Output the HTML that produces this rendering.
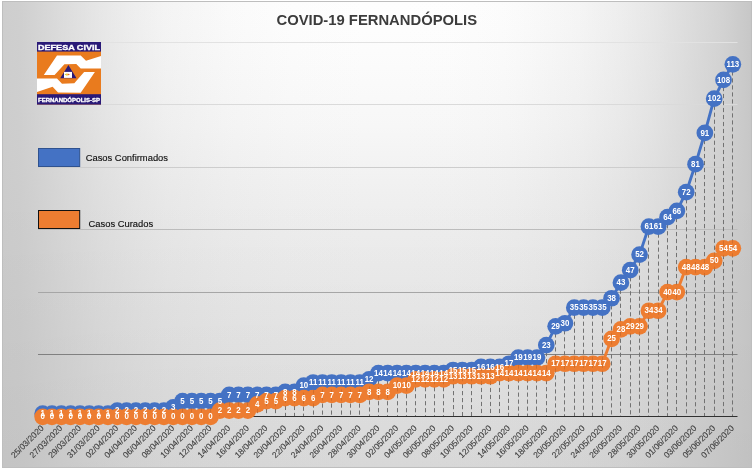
<!DOCTYPE html>
<html><head><meta charset="utf-8"><title>COVID-19 FERNANDÓPOLIS</title>
<style>
html,body{margin:0;padding:0;background:#fff;}
body{width:754px;height:470px;overflow:hidden;position:relative;font-family:"Liberation Sans",sans-serif;}
#chart{position:absolute;left:2px;top:1px;width:750px;height:467px;box-sizing:border-box;border:1px solid #bebebe;
background:linear-gradient(to bottom,rgba(0,0,0,0) 0%,rgba(0,0,0,0) 40.56%,rgba(0,0,0,0.03) 100%),linear-gradient(to right,rgba(199,199,199,0.880) 0.00%,rgba(199,199,199,0.850) 2.27%,rgba(199,199,199,0.780) 4.13%,rgba(199,199,199,0.600) 8.40%,rgba(199,199,199,0.420) 13.07%,rgba(199,199,199,0.280) 17.73%,rgba(199,199,199,0.180) 21.73%,rgba(199,199,199,0.070) 30.40%,rgba(199,199,199,0.020) 38.40%,rgba(199,199,199,0.000) 48.67%,rgba(199,199,199,0.005) 59.73%,rgba(199,199,199,0.030) 65.73%,rgba(199,199,199,0.050) 68.40%,rgba(199,199,199,0.170) 77.07%,rgba(199,199,199,0.290) 82.40%,rgba(199,199,199,0.430) 87.07%,rgba(199,199,199,0.610) 91.73%,rgba(199,199,199,0.770) 95.73%,rgba(199,199,199,0.870) 97.73%,rgba(199,199,199,1.000) 100.00%),linear-gradient(to bottom,rgb(254.0,254.0,254.0) 0.00%,rgb(253.5,253.5,253.5) 3.86%,rgb(251.5,251.5,251.5) 12.66%,rgb(247.0,247.0,247.0) 26.61%,rgb(239.6,239.6,239.6) 41.63%,rgb(230.9,230.9,230.9) 69.53%,rgb(222.7,222.7,222.7) 100.00%);}
svg{position:absolute;left:0;top:0;}
.dl{font-family:"Liberation Sans",sans-serif;font-weight:bold;font-size:8.8px;fill:#fff;text-anchor:middle;}
.xl{font-family:"Liberation Sans",sans-serif;font-size:8.45px;fill:#404040;stroke:#404040;stroke-width:0.12px;}
.lg{font-family:"Liberation Sans",sans-serif;font-size:9.4px;fill:#111;stroke:#111;stroke-width:0.15px;}
.title{font-family:"Liberation Sans",sans-serif;font-weight:bold;font-size:14.8px;fill:#3c3c3c;text-anchor:middle;}
</style></head>
<body>
<div id="chart"></div>
<svg width="754" height="470" viewBox="0 0 754 470" style="will-change:transform">
<text x="376.8" y="24.8" class="title">COVID-19 FERNANDÓPOLIS</text>
<line x1="38.0" x2="737.5" y1="42.5" y2="42.5" stroke="#e2e2e2" stroke-width="1"/>
<line x1="38.0" x2="737.5" y1="104.5" y2="104.5" stroke="#dadada" stroke-width="1"/>
<line x1="38.0" x2="737.5" y1="167.5" y2="167.5" stroke="#cdcdcd" stroke-width="1"/>
<line x1="38.0" x2="737.5" y1="229.5" y2="229.5" stroke="#bcbcbc" stroke-width="1"/>
<line x1="38.0" x2="737.5" y1="292.5" y2="292.5" stroke="#a6a6a6" stroke-width="1"/>
<line x1="38.0" x2="737.5" y1="354.5" y2="354.5" stroke="#808080" stroke-width="1"/>
<line x1="38.0" x2="737.5" y1="416.5" y2="416.5" stroke="#303030" stroke-width="1"/>
<line x1="42.5" x2="42.5" y1="413.68" y2="416" stroke="#727272" stroke-width="1" stroke-dasharray="4.2 2.8"/>
<line x1="51.5" x2="51.5" y1="413.68" y2="416" stroke="#727272" stroke-width="1" stroke-dasharray="4.2 2.8"/>
<line x1="61.5" x2="61.5" y1="413.68" y2="416" stroke="#727272" stroke-width="1" stroke-dasharray="4.2 2.8"/>
<line x1="70.5" x2="70.5" y1="413.68" y2="416" stroke="#727272" stroke-width="1" stroke-dasharray="4.2 2.8"/>
<line x1="79.5" x2="79.5" y1="413.68" y2="416" stroke="#727272" stroke-width="1" stroke-dasharray="4.2 2.8"/>
<line x1="89.5" x2="89.5" y1="413.68" y2="416" stroke="#727272" stroke-width="1" stroke-dasharray="4.2 2.8"/>
<line x1="98.5" x2="98.5" y1="413.68" y2="416" stroke="#727272" stroke-width="1" stroke-dasharray="4.2 2.8"/>
<line x1="107.5" x2="107.5" y1="413.68" y2="416" stroke="#727272" stroke-width="1" stroke-dasharray="4.2 2.8"/>
<line x1="117.5" x2="117.5" y1="410.56" y2="416" stroke="#727272" stroke-width="1" stroke-dasharray="4.2 2.8"/>
<line x1="126.5" x2="126.5" y1="410.56" y2="416" stroke="#727272" stroke-width="1" stroke-dasharray="4.2 2.8"/>
<line x1="135.5" x2="135.5" y1="410.56" y2="416" stroke="#727272" stroke-width="1" stroke-dasharray="4.2 2.8"/>
<line x1="145.5" x2="145.5" y1="410.56" y2="416" stroke="#727272" stroke-width="1" stroke-dasharray="4.2 2.8"/>
<line x1="154.5" x2="154.5" y1="410.56" y2="416" stroke="#727272" stroke-width="1" stroke-dasharray="4.2 2.8"/>
<line x1="163.5" x2="163.5" y1="410.56" y2="416" stroke="#727272" stroke-width="1" stroke-dasharray="4.2 2.8"/>
<line x1="173.5" x2="173.5" y1="407.44" y2="416" stroke="#727272" stroke-width="1" stroke-dasharray="4.2 2.8"/>
<line x1="182.5" x2="182.5" y1="401.20" y2="416" stroke="#727272" stroke-width="1" stroke-dasharray="4.2 2.8"/>
<line x1="191.5" x2="191.5" y1="401.20" y2="416" stroke="#727272" stroke-width="1" stroke-dasharray="4.2 2.8"/>
<line x1="201.5" x2="201.5" y1="401.20" y2="416" stroke="#727272" stroke-width="1" stroke-dasharray="4.2 2.8"/>
<line x1="210.5" x2="210.5" y1="401.20" y2="416" stroke="#727272" stroke-width="1" stroke-dasharray="4.2 2.8"/>
<line x1="219.5" x2="219.5" y1="401.20" y2="416" stroke="#727272" stroke-width="1" stroke-dasharray="4.2 2.8"/>
<line x1="229.5" x2="229.5" y1="394.97" y2="416" stroke="#727272" stroke-width="1" stroke-dasharray="4.2 2.8"/>
<line x1="238.5" x2="238.5" y1="394.97" y2="416" stroke="#727272" stroke-width="1" stroke-dasharray="4.2 2.8"/>
<line x1="247.5" x2="247.5" y1="394.97" y2="416" stroke="#727272" stroke-width="1" stroke-dasharray="4.2 2.8"/>
<line x1="257.5" x2="257.5" y1="394.97" y2="416" stroke="#727272" stroke-width="1" stroke-dasharray="4.2 2.8"/>
<line x1="266.5" x2="266.5" y1="394.97" y2="416" stroke="#727272" stroke-width="1" stroke-dasharray="4.2 2.8"/>
<line x1="275.5" x2="275.5" y1="394.97" y2="416" stroke="#727272" stroke-width="1" stroke-dasharray="4.2 2.8"/>
<line x1="285.5" x2="285.5" y1="391.85" y2="416" stroke="#727272" stroke-width="1" stroke-dasharray="4.2 2.8"/>
<line x1="294.5" x2="294.5" y1="391.85" y2="416" stroke="#727272" stroke-width="1" stroke-dasharray="4.2 2.8"/>
<line x1="303.5" x2="303.5" y1="385.61" y2="416" stroke="#727272" stroke-width="1" stroke-dasharray="4.2 2.8"/>
<line x1="313.5" x2="313.5" y1="382.49" y2="416" stroke="#727272" stroke-width="1" stroke-dasharray="4.2 2.8"/>
<line x1="322.5" x2="322.5" y1="382.49" y2="416" stroke="#727272" stroke-width="1" stroke-dasharray="4.2 2.8"/>
<line x1="331.5" x2="331.5" y1="382.49" y2="416" stroke="#727272" stroke-width="1" stroke-dasharray="4.2 2.8"/>
<line x1="341.5" x2="341.5" y1="382.49" y2="416" stroke="#727272" stroke-width="1" stroke-dasharray="4.2 2.8"/>
<line x1="350.5" x2="350.5" y1="382.49" y2="416" stroke="#727272" stroke-width="1" stroke-dasharray="4.2 2.8"/>
<line x1="359.5" x2="359.5" y1="382.49" y2="416" stroke="#727272" stroke-width="1" stroke-dasharray="4.2 2.8"/>
<line x1="369.5" x2="369.5" y1="379.37" y2="416" stroke="#727272" stroke-width="1" stroke-dasharray="4.2 2.8"/>
<line x1="378.5" x2="378.5" y1="373.13" y2="416" stroke="#727272" stroke-width="1" stroke-dasharray="4.2 2.8"/>
<line x1="387.5" x2="387.5" y1="373.13" y2="416" stroke="#727272" stroke-width="1" stroke-dasharray="4.2 2.8"/>
<line x1="397.5" x2="397.5" y1="373.13" y2="416" stroke="#727272" stroke-width="1" stroke-dasharray="4.2 2.8"/>
<line x1="406.5" x2="406.5" y1="373.13" y2="416" stroke="#727272" stroke-width="1" stroke-dasharray="4.2 2.8"/>
<line x1="415.5" x2="415.5" y1="373.13" y2="416" stroke="#727272" stroke-width="1" stroke-dasharray="4.2 2.8"/>
<line x1="425.5" x2="425.5" y1="373.13" y2="416" stroke="#727272" stroke-width="1" stroke-dasharray="4.2 2.8"/>
<line x1="434.5" x2="434.5" y1="373.13" y2="416" stroke="#727272" stroke-width="1" stroke-dasharray="4.2 2.8"/>
<line x1="443.5" x2="443.5" y1="373.13" y2="416" stroke="#727272" stroke-width="1" stroke-dasharray="4.2 2.8"/>
<line x1="453.5" x2="453.5" y1="370.01" y2="416" stroke="#727272" stroke-width="1" stroke-dasharray="4.2 2.8"/>
<line x1="462.5" x2="462.5" y1="370.01" y2="416" stroke="#727272" stroke-width="1" stroke-dasharray="4.2 2.8"/>
<line x1="471.5" x2="471.5" y1="370.01" y2="416" stroke="#727272" stroke-width="1" stroke-dasharray="4.2 2.8"/>
<line x1="481.5" x2="481.5" y1="366.89" y2="416" stroke="#727272" stroke-width="1" stroke-dasharray="4.2 2.8"/>
<line x1="490.5" x2="490.5" y1="366.89" y2="416" stroke="#727272" stroke-width="1" stroke-dasharray="4.2 2.8"/>
<line x1="499.5" x2="499.5" y1="366.89" y2="416" stroke="#727272" stroke-width="1" stroke-dasharray="4.2 2.8"/>
<line x1="508.5" x2="508.5" y1="363.77" y2="416" stroke="#727272" stroke-width="1" stroke-dasharray="4.2 2.8"/>
<line x1="518.5" x2="518.5" y1="357.54" y2="416" stroke="#727272" stroke-width="1" stroke-dasharray="4.2 2.8"/>
<line x1="527.5" x2="527.5" y1="357.54" y2="416" stroke="#727272" stroke-width="1" stroke-dasharray="4.2 2.8"/>
<line x1="536.5" x2="536.5" y1="357.54" y2="416" stroke="#727272" stroke-width="1" stroke-dasharray="4.2 2.8"/>
<line x1="546.5" x2="546.5" y1="345.06" y2="416" stroke="#727272" stroke-width="1" stroke-dasharray="4.2 2.8"/>
<line x1="555.5" x2="555.5" y1="326.34" y2="416" stroke="#727272" stroke-width="1" stroke-dasharray="4.2 2.8"/>
<line x1="564.5" x2="564.5" y1="323.23" y2="416" stroke="#727272" stroke-width="1" stroke-dasharray="4.2 2.8"/>
<line x1="574.5" x2="574.5" y1="307.63" y2="416" stroke="#727272" stroke-width="1" stroke-dasharray="4.2 2.8"/>
<line x1="583.5" x2="583.5" y1="307.63" y2="416" stroke="#727272" stroke-width="1" stroke-dasharray="4.2 2.8"/>
<line x1="592.5" x2="592.5" y1="307.63" y2="416" stroke="#727272" stroke-width="1" stroke-dasharray="4.2 2.8"/>
<line x1="602.5" x2="602.5" y1="307.63" y2="416" stroke="#727272" stroke-width="1" stroke-dasharray="4.2 2.8"/>
<line x1="611.5" x2="611.5" y1="298.27" y2="416" stroke="#727272" stroke-width="1" stroke-dasharray="4.2 2.8"/>
<line x1="620.5" x2="620.5" y1="282.68" y2="416" stroke="#727272" stroke-width="1" stroke-dasharray="4.2 2.8"/>
<line x1="630.5" x2="630.5" y1="270.20" y2="416" stroke="#727272" stroke-width="1" stroke-dasharray="4.2 2.8"/>
<line x1="639.5" x2="639.5" y1="254.60" y2="416" stroke="#727272" stroke-width="1" stroke-dasharray="4.2 2.8"/>
<line x1="648.5" x2="648.5" y1="226.53" y2="416" stroke="#727272" stroke-width="1" stroke-dasharray="4.2 2.8"/>
<line x1="658.5" x2="658.5" y1="226.53" y2="416" stroke="#727272" stroke-width="1" stroke-dasharray="4.2 2.8"/>
<line x1="667.5" x2="667.5" y1="217.17" y2="416" stroke="#727272" stroke-width="1" stroke-dasharray="4.2 2.8"/>
<line x1="676.5" x2="676.5" y1="210.94" y2="416" stroke="#727272" stroke-width="1" stroke-dasharray="4.2 2.8"/>
<line x1="686.5" x2="686.5" y1="192.22" y2="416" stroke="#727272" stroke-width="1" stroke-dasharray="4.2 2.8"/>
<line x1="695.5" x2="695.5" y1="164.15" y2="416" stroke="#727272" stroke-width="1" stroke-dasharray="4.2 2.8"/>
<line x1="704.5" x2="704.5" y1="132.96" y2="416" stroke="#727272" stroke-width="1" stroke-dasharray="4.2 2.8"/>
<line x1="714.5" x2="714.5" y1="98.65" y2="416" stroke="#727272" stroke-width="1" stroke-dasharray="4.2 2.8"/>
<line x1="723.5" x2="723.5" y1="79.93" y2="416" stroke="#727272" stroke-width="1" stroke-dasharray="4.2 2.8"/>
<line x1="732.5" x2="732.5" y1="64.33" y2="416" stroke="#727272" stroke-width="1" stroke-dasharray="4.2 2.8"/>
<polyline points="42.66,413.68 51.99,413.68 61.32,413.68 70.64,413.68 79.97,413.68 89.30,413.68 98.62,413.68 107.95,413.68 117.28,410.56 126.60,410.56 135.93,410.56 145.26,410.56 154.58,410.56 163.91,410.56 173.24,407.44 182.56,401.20 191.89,401.20 201.22,401.20 210.54,401.20 219.87,401.20 229.20,394.97 238.52,394.97 247.85,394.97 257.18,394.97 266.50,394.97 275.83,394.97 285.16,391.85 294.48,391.85 303.81,385.61 313.14,382.49 322.46,382.49 331.79,382.49 341.12,382.49 350.44,382.49 359.77,382.49 369.10,379.37 378.42,373.13 387.75,373.13 397.08,373.13 406.40,373.13 415.73,373.13 425.06,373.13 434.38,373.13 443.71,373.13 453.04,370.01 462.36,370.01 471.69,370.01 481.02,366.89 490.34,366.89 499.67,366.89 509.00,363.77 518.32,357.54 527.65,357.54 536.98,357.54 546.30,345.06 555.63,326.34 564.96,323.23 574.28,307.63 583.61,307.63 592.94,307.63 602.26,307.63 611.59,298.27 620.92,282.68 630.24,270.20 639.57,254.60 648.90,226.53 658.22,226.53 667.55,217.17 676.88,210.94 686.20,192.22 695.53,164.15 704.86,132.96 714.18,98.65 723.51,79.93 732.84,64.33" fill="none" stroke="#4472c4" stroke-width="2.9" stroke-linejoin="round" stroke-linecap="round"/>
<circle cx="42.66" cy="413.68" r="8.35" fill="#4472c4"/>
<circle cx="51.99" cy="413.68" r="8.35" fill="#4472c4"/>
<circle cx="61.32" cy="413.68" r="8.35" fill="#4472c4"/>
<circle cx="70.64" cy="413.68" r="8.35" fill="#4472c4"/>
<circle cx="79.97" cy="413.68" r="8.35" fill="#4472c4"/>
<circle cx="89.30" cy="413.68" r="8.35" fill="#4472c4"/>
<circle cx="98.62" cy="413.68" r="8.35" fill="#4472c4"/>
<circle cx="107.95" cy="413.68" r="8.35" fill="#4472c4"/>
<circle cx="117.28" cy="410.56" r="8.35" fill="#4472c4"/>
<circle cx="126.60" cy="410.56" r="8.35" fill="#4472c4"/>
<circle cx="135.93" cy="410.56" r="8.35" fill="#4472c4"/>
<circle cx="145.26" cy="410.56" r="8.35" fill="#4472c4"/>
<circle cx="154.58" cy="410.56" r="8.35" fill="#4472c4"/>
<circle cx="163.91" cy="410.56" r="8.35" fill="#4472c4"/>
<circle cx="173.24" cy="407.44" r="8.35" fill="#4472c4"/>
<circle cx="182.56" cy="401.20" r="8.35" fill="#4472c4"/>
<circle cx="191.89" cy="401.20" r="8.35" fill="#4472c4"/>
<circle cx="201.22" cy="401.20" r="8.35" fill="#4472c4"/>
<circle cx="210.54" cy="401.20" r="8.35" fill="#4472c4"/>
<circle cx="219.87" cy="401.20" r="8.35" fill="#4472c4"/>
<circle cx="229.20" cy="394.97" r="8.35" fill="#4472c4"/>
<circle cx="238.52" cy="394.97" r="8.35" fill="#4472c4"/>
<circle cx="247.85" cy="394.97" r="8.35" fill="#4472c4"/>
<circle cx="257.18" cy="394.97" r="8.35" fill="#4472c4"/>
<circle cx="266.50" cy="394.97" r="8.35" fill="#4472c4"/>
<circle cx="275.83" cy="394.97" r="8.35" fill="#4472c4"/>
<circle cx="285.16" cy="391.85" r="8.35" fill="#4472c4"/>
<circle cx="294.48" cy="391.85" r="8.35" fill="#4472c4"/>
<circle cx="303.81" cy="385.61" r="8.35" fill="#4472c4"/>
<circle cx="313.14" cy="382.49" r="8.35" fill="#4472c4"/>
<circle cx="322.46" cy="382.49" r="8.35" fill="#4472c4"/>
<circle cx="331.79" cy="382.49" r="8.35" fill="#4472c4"/>
<circle cx="341.12" cy="382.49" r="8.35" fill="#4472c4"/>
<circle cx="350.44" cy="382.49" r="8.35" fill="#4472c4"/>
<circle cx="359.77" cy="382.49" r="8.35" fill="#4472c4"/>
<circle cx="369.10" cy="379.37" r="8.35" fill="#4472c4"/>
<circle cx="378.42" cy="373.13" r="8.35" fill="#4472c4"/>
<circle cx="387.75" cy="373.13" r="8.35" fill="#4472c4"/>
<circle cx="397.08" cy="373.13" r="8.35" fill="#4472c4"/>
<circle cx="406.40" cy="373.13" r="8.35" fill="#4472c4"/>
<circle cx="415.73" cy="373.13" r="8.35" fill="#4472c4"/>
<circle cx="425.06" cy="373.13" r="8.35" fill="#4472c4"/>
<circle cx="434.38" cy="373.13" r="8.35" fill="#4472c4"/>
<circle cx="443.71" cy="373.13" r="8.35" fill="#4472c4"/>
<circle cx="453.04" cy="370.01" r="8.35" fill="#4472c4"/>
<circle cx="462.36" cy="370.01" r="8.35" fill="#4472c4"/>
<circle cx="471.69" cy="370.01" r="8.35" fill="#4472c4"/>
<circle cx="481.02" cy="366.89" r="8.35" fill="#4472c4"/>
<circle cx="490.34" cy="366.89" r="8.35" fill="#4472c4"/>
<circle cx="499.67" cy="366.89" r="8.35" fill="#4472c4"/>
<circle cx="509.00" cy="363.77" r="8.35" fill="#4472c4"/>
<circle cx="518.32" cy="357.54" r="8.35" fill="#4472c4"/>
<circle cx="527.65" cy="357.54" r="8.35" fill="#4472c4"/>
<circle cx="536.98" cy="357.54" r="8.35" fill="#4472c4"/>
<circle cx="546.30" cy="345.06" r="8.35" fill="#4472c4"/>
<circle cx="555.63" cy="326.34" r="8.35" fill="#4472c4"/>
<circle cx="564.96" cy="323.23" r="8.35" fill="#4472c4"/>
<circle cx="574.28" cy="307.63" r="8.35" fill="#4472c4"/>
<circle cx="583.61" cy="307.63" r="8.35" fill="#4472c4"/>
<circle cx="592.94" cy="307.63" r="8.35" fill="#4472c4"/>
<circle cx="602.26" cy="307.63" r="8.35" fill="#4472c4"/>
<circle cx="611.59" cy="298.27" r="8.35" fill="#4472c4"/>
<circle cx="620.92" cy="282.68" r="8.35" fill="#4472c4"/>
<circle cx="630.24" cy="270.20" r="8.35" fill="#4472c4"/>
<circle cx="639.57" cy="254.60" r="8.35" fill="#4472c4"/>
<circle cx="648.90" cy="226.53" r="8.35" fill="#4472c4"/>
<circle cx="658.22" cy="226.53" r="8.35" fill="#4472c4"/>
<circle cx="667.55" cy="217.17" r="8.35" fill="#4472c4"/>
<circle cx="676.88" cy="210.94" r="8.35" fill="#4472c4"/>
<circle cx="686.20" cy="192.22" r="8.35" fill="#4472c4"/>
<circle cx="695.53" cy="164.15" r="8.35" fill="#4472c4"/>
<circle cx="704.86" cy="132.96" r="8.35" fill="#4472c4"/>
<circle cx="714.18" cy="98.65" r="8.35" fill="#4472c4"/>
<circle cx="723.51" cy="79.93" r="8.35" fill="#4472c4"/>
<circle cx="732.84" cy="64.33" r="8.35" fill="#4472c4"/>
<polyline points="42.66,416.80 51.99,416.80 61.32,416.80 70.64,416.80 79.97,416.80 89.30,416.80 98.62,416.80 107.95,416.80 117.28,416.80 126.60,416.80 135.93,416.80 145.26,416.80 154.58,416.80 163.91,416.80 173.24,416.80 182.56,416.80 191.89,416.80 201.22,416.80 210.54,416.80 219.87,410.56 229.20,410.56 238.52,410.56 247.85,410.56 257.18,404.32 266.50,401.20 275.83,401.20 285.16,398.09 294.48,398.09 303.81,398.09 313.14,398.09 322.46,394.97 331.79,394.97 341.12,394.97 350.44,394.97 359.77,394.97 369.10,391.85 378.42,391.85 387.75,391.85 397.08,385.61 406.40,385.61 415.73,379.37 425.06,379.37 434.38,379.37 443.71,379.37 453.04,376.25 462.36,376.25 471.69,376.25 481.02,376.25 490.34,376.25 499.67,373.13 509.00,373.13 518.32,373.13 527.65,373.13 536.98,373.13 546.30,373.13 555.63,363.77 564.96,363.77 574.28,363.77 583.61,363.77 592.94,363.77 602.26,363.77 611.59,338.82 620.92,329.46 630.24,326.34 639.57,326.34 648.90,310.75 658.22,310.75 667.55,292.03 676.88,292.03 686.20,267.08 695.53,267.08 704.86,267.08 714.18,260.84 723.51,248.37 732.84,248.37" fill="none" stroke="#ed7d31" stroke-width="2.9" stroke-linejoin="round" stroke-linecap="round"/>
<circle cx="42.66" cy="416.80" r="8.35" fill="#ed7d31"/>
<circle cx="51.99" cy="416.80" r="8.35" fill="#ed7d31"/>
<circle cx="61.32" cy="416.80" r="8.35" fill="#ed7d31"/>
<circle cx="70.64" cy="416.80" r="8.35" fill="#ed7d31"/>
<circle cx="79.97" cy="416.80" r="8.35" fill="#ed7d31"/>
<circle cx="89.30" cy="416.80" r="8.35" fill="#ed7d31"/>
<circle cx="98.62" cy="416.80" r="8.35" fill="#ed7d31"/>
<circle cx="107.95" cy="416.80" r="8.35" fill="#ed7d31"/>
<circle cx="117.28" cy="416.80" r="8.35" fill="#ed7d31"/>
<circle cx="126.60" cy="416.80" r="8.35" fill="#ed7d31"/>
<circle cx="135.93" cy="416.80" r="8.35" fill="#ed7d31"/>
<circle cx="145.26" cy="416.80" r="8.35" fill="#ed7d31"/>
<circle cx="154.58" cy="416.80" r="8.35" fill="#ed7d31"/>
<circle cx="163.91" cy="416.80" r="8.35" fill="#ed7d31"/>
<circle cx="173.24" cy="416.80" r="8.35" fill="#ed7d31"/>
<circle cx="182.56" cy="416.80" r="8.35" fill="#ed7d31"/>
<circle cx="191.89" cy="416.80" r="8.35" fill="#ed7d31"/>
<circle cx="201.22" cy="416.80" r="8.35" fill="#ed7d31"/>
<circle cx="210.54" cy="416.80" r="8.35" fill="#ed7d31"/>
<circle cx="219.87" cy="410.56" r="8.35" fill="#ed7d31"/>
<circle cx="229.20" cy="410.56" r="8.35" fill="#ed7d31"/>
<circle cx="238.52" cy="410.56" r="8.35" fill="#ed7d31"/>
<circle cx="247.85" cy="410.56" r="8.35" fill="#ed7d31"/>
<circle cx="257.18" cy="404.32" r="8.35" fill="#ed7d31"/>
<circle cx="266.50" cy="401.20" r="8.35" fill="#ed7d31"/>
<circle cx="275.83" cy="401.20" r="8.35" fill="#ed7d31"/>
<circle cx="285.16" cy="398.09" r="8.35" fill="#ed7d31"/>
<circle cx="294.48" cy="398.09" r="8.35" fill="#ed7d31"/>
<circle cx="303.81" cy="398.09" r="8.35" fill="#ed7d31"/>
<circle cx="313.14" cy="398.09" r="8.35" fill="#ed7d31"/>
<circle cx="322.46" cy="394.97" r="8.35" fill="#ed7d31"/>
<circle cx="331.79" cy="394.97" r="8.35" fill="#ed7d31"/>
<circle cx="341.12" cy="394.97" r="8.35" fill="#ed7d31"/>
<circle cx="350.44" cy="394.97" r="8.35" fill="#ed7d31"/>
<circle cx="359.77" cy="394.97" r="8.35" fill="#ed7d31"/>
<circle cx="369.10" cy="391.85" r="8.35" fill="#ed7d31"/>
<circle cx="378.42" cy="391.85" r="8.35" fill="#ed7d31"/>
<circle cx="387.75" cy="391.85" r="8.35" fill="#ed7d31"/>
<circle cx="397.08" cy="385.61" r="8.35" fill="#ed7d31"/>
<circle cx="406.40" cy="385.61" r="8.35" fill="#ed7d31"/>
<circle cx="415.73" cy="379.37" r="8.35" fill="#ed7d31"/>
<circle cx="425.06" cy="379.37" r="8.35" fill="#ed7d31"/>
<circle cx="434.38" cy="379.37" r="8.35" fill="#ed7d31"/>
<circle cx="443.71" cy="379.37" r="8.35" fill="#ed7d31"/>
<circle cx="453.04" cy="376.25" r="8.35" fill="#ed7d31"/>
<circle cx="462.36" cy="376.25" r="8.35" fill="#ed7d31"/>
<circle cx="471.69" cy="376.25" r="8.35" fill="#ed7d31"/>
<circle cx="481.02" cy="376.25" r="8.35" fill="#ed7d31"/>
<circle cx="490.34" cy="376.25" r="8.35" fill="#ed7d31"/>
<circle cx="499.67" cy="373.13" r="8.35" fill="#ed7d31"/>
<circle cx="509.00" cy="373.13" r="8.35" fill="#ed7d31"/>
<circle cx="518.32" cy="373.13" r="8.35" fill="#ed7d31"/>
<circle cx="527.65" cy="373.13" r="8.35" fill="#ed7d31"/>
<circle cx="536.98" cy="373.13" r="8.35" fill="#ed7d31"/>
<circle cx="546.30" cy="373.13" r="8.35" fill="#ed7d31"/>
<circle cx="555.63" cy="363.77" r="8.35" fill="#ed7d31"/>
<circle cx="564.96" cy="363.77" r="8.35" fill="#ed7d31"/>
<circle cx="574.28" cy="363.77" r="8.35" fill="#ed7d31"/>
<circle cx="583.61" cy="363.77" r="8.35" fill="#ed7d31"/>
<circle cx="592.94" cy="363.77" r="8.35" fill="#ed7d31"/>
<circle cx="602.26" cy="363.77" r="8.35" fill="#ed7d31"/>
<circle cx="611.59" cy="338.82" r="8.35" fill="#ed7d31"/>
<circle cx="620.92" cy="329.46" r="8.35" fill="#ed7d31"/>
<circle cx="630.24" cy="326.34" r="8.35" fill="#ed7d31"/>
<circle cx="639.57" cy="326.34" r="8.35" fill="#ed7d31"/>
<circle cx="648.90" cy="310.75" r="8.35" fill="#ed7d31"/>
<circle cx="658.22" cy="310.75" r="8.35" fill="#ed7d31"/>
<circle cx="667.55" cy="292.03" r="8.35" fill="#ed7d31"/>
<circle cx="676.88" cy="292.03" r="8.35" fill="#ed7d31"/>
<circle cx="686.20" cy="267.08" r="8.35" fill="#ed7d31"/>
<circle cx="695.53" cy="267.08" r="8.35" fill="#ed7d31"/>
<circle cx="704.86" cy="267.08" r="8.35" fill="#ed7d31"/>
<circle cx="714.18" cy="260.84" r="8.35" fill="#ed7d31"/>
<circle cx="723.51" cy="248.37" r="8.35" fill="#ed7d31"/>
<circle cx="732.84" cy="248.37" r="8.35" fill="#ed7d31"/>
<line x1="42.5" x2="42.5" y1="413.68" y2="416.00" stroke="#000" stroke-opacity="0.11" stroke-width="1" stroke-dasharray="4.2 2.8" stroke-dashoffset="0.00"/>
<line x1="51.5" x2="51.5" y1="413.68" y2="416.00" stroke="#000" stroke-opacity="0.11" stroke-width="1" stroke-dasharray="4.2 2.8" stroke-dashoffset="0.00"/>
<line x1="61.5" x2="61.5" y1="413.68" y2="416.00" stroke="#000" stroke-opacity="0.11" stroke-width="1" stroke-dasharray="4.2 2.8" stroke-dashoffset="0.00"/>
<line x1="70.5" x2="70.5" y1="413.68" y2="416.00" stroke="#000" stroke-opacity="0.11" stroke-width="1" stroke-dasharray="4.2 2.8" stroke-dashoffset="0.00"/>
<line x1="79.5" x2="79.5" y1="413.68" y2="416.00" stroke="#000" stroke-opacity="0.11" stroke-width="1" stroke-dasharray="4.2 2.8" stroke-dashoffset="0.00"/>
<line x1="89.5" x2="89.5" y1="413.68" y2="416.00" stroke="#000" stroke-opacity="0.11" stroke-width="1" stroke-dasharray="4.2 2.8" stroke-dashoffset="0.00"/>
<line x1="98.5" x2="98.5" y1="413.68" y2="416.00" stroke="#000" stroke-opacity="0.11" stroke-width="1" stroke-dasharray="4.2 2.8" stroke-dashoffset="0.00"/>
<line x1="107.5" x2="107.5" y1="413.68" y2="416.00" stroke="#000" stroke-opacity="0.11" stroke-width="1" stroke-dasharray="4.2 2.8" stroke-dashoffset="0.00"/>
<line x1="117.5" x2="117.5" y1="410.56" y2="416.00" stroke="#000" stroke-opacity="0.11" stroke-width="1" stroke-dasharray="4.2 2.8" stroke-dashoffset="0.00"/>
<line x1="126.5" x2="126.5" y1="410.56" y2="416.00" stroke="#000" stroke-opacity="0.11" stroke-width="1" stroke-dasharray="4.2 2.8" stroke-dashoffset="0.00"/>
<line x1="135.5" x2="135.5" y1="410.56" y2="416.00" stroke="#000" stroke-opacity="0.11" stroke-width="1" stroke-dasharray="4.2 2.8" stroke-dashoffset="0.00"/>
<line x1="145.5" x2="145.5" y1="410.56" y2="416.00" stroke="#000" stroke-opacity="0.11" stroke-width="1" stroke-dasharray="4.2 2.8" stroke-dashoffset="0.00"/>
<line x1="154.5" x2="154.5" y1="410.56" y2="416.00" stroke="#000" stroke-opacity="0.11" stroke-width="1" stroke-dasharray="4.2 2.8" stroke-dashoffset="0.00"/>
<line x1="163.5" x2="163.5" y1="410.56" y2="416.00" stroke="#000" stroke-opacity="0.11" stroke-width="1" stroke-dasharray="4.2 2.8" stroke-dashoffset="0.00"/>
<line x1="173.5" x2="173.5" y1="408.45" y2="416.00" stroke="#000" stroke-opacity="0.11" stroke-width="1" stroke-dasharray="4.2 2.8" stroke-dashoffset="1.01"/>
<line x1="182.5" x2="182.5" y1="408.45" y2="416.00" stroke="#000" stroke-opacity="0.11" stroke-width="1" stroke-dasharray="4.2 2.8" stroke-dashoffset="0.25"/>
<line x1="191.5" x2="191.5" y1="408.45" y2="416.00" stroke="#000" stroke-opacity="0.11" stroke-width="1" stroke-dasharray="4.2 2.8" stroke-dashoffset="0.25"/>
<line x1="201.5" x2="201.5" y1="408.45" y2="416.00" stroke="#000" stroke-opacity="0.11" stroke-width="1" stroke-dasharray="4.2 2.8" stroke-dashoffset="0.25"/>
<line x1="210.5" x2="210.5" y1="408.45" y2="416.00" stroke="#000" stroke-opacity="0.11" stroke-width="1" stroke-dasharray="4.2 2.8" stroke-dashoffset="0.25"/>
<line x1="219.5" x2="219.5" y1="402.21" y2="416.00" stroke="#000" stroke-opacity="0.11" stroke-width="1" stroke-dasharray="4.2 2.8" stroke-dashoffset="1.01"/>
<line x1="229.5" x2="229.5" y1="402.21" y2="416.00" stroke="#000" stroke-opacity="0.11" stroke-width="1" stroke-dasharray="4.2 2.8" stroke-dashoffset="0.25"/>
<line x1="238.5" x2="238.5" y1="402.21" y2="416.00" stroke="#000" stroke-opacity="0.11" stroke-width="1" stroke-dasharray="4.2 2.8" stroke-dashoffset="0.25"/>
<line x1="247.5" x2="247.5" y1="402.21" y2="416.00" stroke="#000" stroke-opacity="0.11" stroke-width="1" stroke-dasharray="4.2 2.8" stroke-dashoffset="0.25"/>
<line x1="257.5" x2="257.5" y1="395.97" y2="412.67" stroke="#000" stroke-opacity="0.11" stroke-width="1" stroke-dasharray="4.2 2.8" stroke-dashoffset="1.01"/>
<line x1="266.5" x2="266.5" y1="394.97" y2="409.55" stroke="#000" stroke-opacity="0.11" stroke-width="1" stroke-dasharray="4.2 2.8" stroke-dashoffset="0.00"/>
<line x1="275.5" x2="275.5" y1="394.97" y2="409.55" stroke="#000" stroke-opacity="0.11" stroke-width="1" stroke-dasharray="4.2 2.8" stroke-dashoffset="0.00"/>
<line x1="285.5" x2="285.5" y1="391.85" y2="406.44" stroke="#000" stroke-opacity="0.11" stroke-width="1" stroke-dasharray="4.2 2.8" stroke-dashoffset="0.00"/>
<line x1="294.5" x2="294.5" y1="391.85" y2="406.44" stroke="#000" stroke-opacity="0.11" stroke-width="1" stroke-dasharray="4.2 2.8" stroke-dashoffset="0.00"/>
<line x1="303.5" x2="303.5" y1="389.74" y2="406.44" stroke="#000" stroke-opacity="0.11" stroke-width="1" stroke-dasharray="4.2 2.8" stroke-dashoffset="4.13"/>
<line x1="313.5" x2="313.5" y1="389.74" y2="406.44" stroke="#000" stroke-opacity="0.11" stroke-width="1" stroke-dasharray="4.2 2.8" stroke-dashoffset="0.25"/>
<line x1="322.5" x2="322.5" y1="386.62" y2="403.32" stroke="#000" stroke-opacity="0.11" stroke-width="1" stroke-dasharray="4.2 2.8" stroke-dashoffset="4.13"/>
<line x1="331.5" x2="331.5" y1="386.62" y2="403.32" stroke="#000" stroke-opacity="0.11" stroke-width="1" stroke-dasharray="4.2 2.8" stroke-dashoffset="4.13"/>
<line x1="341.5" x2="341.5" y1="386.62" y2="403.32" stroke="#000" stroke-opacity="0.11" stroke-width="1" stroke-dasharray="4.2 2.8" stroke-dashoffset="4.13"/>
<line x1="350.5" x2="350.5" y1="386.62" y2="403.32" stroke="#000" stroke-opacity="0.11" stroke-width="1" stroke-dasharray="4.2 2.8" stroke-dashoffset="4.13"/>
<line x1="359.5" x2="359.5" y1="386.62" y2="403.32" stroke="#000" stroke-opacity="0.11" stroke-width="1" stroke-dasharray="4.2 2.8" stroke-dashoffset="4.13"/>
<line x1="369.5" x2="369.5" y1="383.50" y2="400.20" stroke="#000" stroke-opacity="0.11" stroke-width="1" stroke-dasharray="4.2 2.8" stroke-dashoffset="4.13"/>
<line x1="378.5" x2="378.5" y1="383.50" y2="400.20" stroke="#000" stroke-opacity="0.11" stroke-width="1" stroke-dasharray="4.2 2.8" stroke-dashoffset="3.37"/>
<line x1="387.5" x2="387.5" y1="383.50" y2="400.20" stroke="#000" stroke-opacity="0.11" stroke-width="1" stroke-dasharray="4.2 2.8" stroke-dashoffset="3.37"/>
<line x1="397.5" x2="397.5" y1="377.26" y2="393.96" stroke="#000" stroke-opacity="0.11" stroke-width="1" stroke-dasharray="4.2 2.8" stroke-dashoffset="4.13"/>
<line x1="406.5" x2="406.5" y1="377.26" y2="393.96" stroke="#000" stroke-opacity="0.11" stroke-width="1" stroke-dasharray="4.2 2.8" stroke-dashoffset="4.13"/>
<line x1="415.5" x2="415.5" y1="373.13" y2="387.72" stroke="#000" stroke-opacity="0.11" stroke-width="1" stroke-dasharray="4.2 2.8" stroke-dashoffset="0.00"/>
<line x1="425.5" x2="425.5" y1="373.13" y2="387.72" stroke="#000" stroke-opacity="0.11" stroke-width="1" stroke-dasharray="4.2 2.8" stroke-dashoffset="0.00"/>
<line x1="434.5" x2="434.5" y1="373.13" y2="387.72" stroke="#000" stroke-opacity="0.11" stroke-width="1" stroke-dasharray="4.2 2.8" stroke-dashoffset="0.00"/>
<line x1="443.5" x2="443.5" y1="373.13" y2="387.72" stroke="#000" stroke-opacity="0.11" stroke-width="1" stroke-dasharray="4.2 2.8" stroke-dashoffset="0.00"/>
<line x1="453.5" x2="453.5" y1="370.01" y2="384.60" stroke="#000" stroke-opacity="0.11" stroke-width="1" stroke-dasharray="4.2 2.8" stroke-dashoffset="0.00"/>
<line x1="462.5" x2="462.5" y1="370.01" y2="384.60" stroke="#000" stroke-opacity="0.11" stroke-width="1" stroke-dasharray="4.2 2.8" stroke-dashoffset="0.00"/>
<line x1="471.5" x2="471.5" y1="370.01" y2="384.60" stroke="#000" stroke-opacity="0.11" stroke-width="1" stroke-dasharray="4.2 2.8" stroke-dashoffset="0.00"/>
<line x1="481.5" x2="481.5" y1="367.90" y2="384.60" stroke="#000" stroke-opacity="0.11" stroke-width="1" stroke-dasharray="4.2 2.8" stroke-dashoffset="1.01"/>
<line x1="490.5" x2="490.5" y1="367.90" y2="384.60" stroke="#000" stroke-opacity="0.11" stroke-width="1" stroke-dasharray="4.2 2.8" stroke-dashoffset="1.01"/>
<line x1="499.5" x2="499.5" y1="366.89" y2="381.48" stroke="#000" stroke-opacity="0.11" stroke-width="1" stroke-dasharray="4.2 2.8" stroke-dashoffset="0.00"/>
<line x1="508.5" x2="508.5" y1="364.78" y2="381.48" stroke="#000" stroke-opacity="0.11" stroke-width="1" stroke-dasharray="4.2 2.8" stroke-dashoffset="1.01"/>
<line x1="518.5" x2="518.5" y1="364.78" y2="381.48" stroke="#000" stroke-opacity="0.11" stroke-width="1" stroke-dasharray="4.2 2.8" stroke-dashoffset="0.25"/>
<line x1="527.5" x2="527.5" y1="364.78" y2="381.48" stroke="#000" stroke-opacity="0.11" stroke-width="1" stroke-dasharray="4.2 2.8" stroke-dashoffset="0.25"/>
<line x1="536.5" x2="536.5" y1="364.78" y2="381.48" stroke="#000" stroke-opacity="0.11" stroke-width="1" stroke-dasharray="4.2 2.8" stroke-dashoffset="0.25"/>
<line x1="546.5" x2="546.5" y1="364.78" y2="381.48" stroke="#000" stroke-opacity="0.11" stroke-width="1" stroke-dasharray="4.2 2.8" stroke-dashoffset="5.72"/>
<line x1="555.5" x2="555.5" y1="355.42" y2="372.12" stroke="#000" stroke-opacity="0.11" stroke-width="1" stroke-dasharray="4.2 2.8" stroke-dashoffset="1.08"/>
<line x1="564.5" x2="564.5" y1="355.42" y2="372.12" stroke="#000" stroke-opacity="0.11" stroke-width="1" stroke-dasharray="4.2 2.8" stroke-dashoffset="4.20"/>
<line x1="574.5" x2="574.5" y1="355.42" y2="372.12" stroke="#000" stroke-opacity="0.11" stroke-width="1" stroke-dasharray="4.2 2.8" stroke-dashoffset="5.80"/>
<line x1="583.5" x2="583.5" y1="355.42" y2="372.12" stroke="#000" stroke-opacity="0.11" stroke-width="1" stroke-dasharray="4.2 2.8" stroke-dashoffset="5.80"/>
<line x1="592.5" x2="592.5" y1="355.42" y2="372.12" stroke="#000" stroke-opacity="0.11" stroke-width="1" stroke-dasharray="4.2 2.8" stroke-dashoffset="5.80"/>
<line x1="602.5" x2="602.5" y1="355.42" y2="372.12" stroke="#000" stroke-opacity="0.11" stroke-width="1" stroke-dasharray="4.2 2.8" stroke-dashoffset="5.80"/>
<line x1="611.5" x2="611.5" y1="330.47" y2="347.17" stroke="#000" stroke-opacity="0.11" stroke-width="1" stroke-dasharray="4.2 2.8" stroke-dashoffset="4.20"/>
<line x1="620.5" x2="620.5" y1="321.11" y2="337.81" stroke="#000" stroke-opacity="0.11" stroke-width="1" stroke-dasharray="4.2 2.8" stroke-dashoffset="3.44"/>
<line x1="630.5" x2="630.5" y1="317.99" y2="334.69" stroke="#000" stroke-opacity="0.11" stroke-width="1" stroke-dasharray="4.2 2.8" stroke-dashoffset="5.80"/>
<line x1="639.5" x2="639.5" y1="317.99" y2="334.69" stroke="#000" stroke-opacity="0.11" stroke-width="1" stroke-dasharray="4.2 2.8" stroke-dashoffset="0.39"/>
<line x1="648.5" x2="648.5" y1="302.40" y2="319.10" stroke="#000" stroke-opacity="0.11" stroke-width="1" stroke-dasharray="4.2 2.8" stroke-dashoffset="5.87"/>
<line x1="658.5" x2="658.5" y1="302.40" y2="319.10" stroke="#000" stroke-opacity="0.11" stroke-width="1" stroke-dasharray="4.2 2.8" stroke-dashoffset="5.87"/>
<line x1="667.5" x2="667.5" y1="283.68" y2="300.38" stroke="#000" stroke-opacity="0.11" stroke-width="1" stroke-dasharray="4.2 2.8" stroke-dashoffset="3.51"/>
<line x1="676.5" x2="676.5" y1="283.68" y2="300.38" stroke="#000" stroke-opacity="0.11" stroke-width="1" stroke-dasharray="4.2 2.8" stroke-dashoffset="2.75"/>
<line x1="686.5" x2="686.5" y1="258.73" y2="275.43" stroke="#000" stroke-opacity="0.11" stroke-width="1" stroke-dasharray="4.2 2.8" stroke-dashoffset="3.51"/>
<line x1="695.5" x2="695.5" y1="258.73" y2="275.43" stroke="#000" stroke-opacity="0.11" stroke-width="1" stroke-dasharray="4.2 2.8" stroke-dashoffset="3.58"/>
<line x1="704.5" x2="704.5" y1="258.73" y2="275.43" stroke="#000" stroke-opacity="0.11" stroke-width="1" stroke-dasharray="4.2 2.8" stroke-dashoffset="6.77"/>
<line x1="714.5" x2="714.5" y1="252.49" y2="269.19" stroke="#000" stroke-opacity="0.11" stroke-width="1" stroke-dasharray="4.2 2.8" stroke-dashoffset="6.85"/>
<line x1="723.5" x2="723.5" y1="240.02" y2="256.72" stroke="#000" stroke-opacity="0.11" stroke-width="1" stroke-dasharray="4.2 2.8" stroke-dashoffset="6.09"/>
<line x1="732.5" x2="732.5" y1="240.02" y2="256.72" stroke="#000" stroke-opacity="0.11" stroke-width="1" stroke-dasharray="4.2 2.8" stroke-dashoffset="0.68"/>
<text transform="translate(42.66,416.33) scale(0.9,1)" class="dl">1</text>
<text transform="translate(51.99,416.33) scale(0.9,1)" class="dl">1</text>
<text transform="translate(61.32,416.33) scale(0.9,1)" class="dl">1</text>
<text transform="translate(70.64,416.33) scale(0.9,1)" class="dl">1</text>
<text transform="translate(79.97,416.33) scale(0.9,1)" class="dl">1</text>
<text transform="translate(89.30,416.33) scale(0.9,1)" class="dl">1</text>
<text transform="translate(98.62,416.33) scale(0.9,1)" class="dl">1</text>
<text transform="translate(107.95,416.33) scale(0.9,1)" class="dl">1</text>
<text transform="translate(117.28,413.21) scale(0.9,1)" class="dl">2</text>
<text transform="translate(126.60,413.21) scale(0.9,1)" class="dl">2</text>
<text transform="translate(135.93,413.21) scale(0.9,1)" class="dl">2</text>
<text transform="translate(145.26,413.21) scale(0.9,1)" class="dl">2</text>
<text transform="translate(154.58,413.21) scale(0.9,1)" class="dl">2</text>
<text transform="translate(163.91,413.21) scale(0.9,1)" class="dl">2</text>
<text transform="translate(173.24,410.09) scale(0.9,1)" class="dl">3</text>
<text transform="translate(182.56,403.85) scale(0.9,1)" class="dl">5</text>
<text transform="translate(191.89,403.85) scale(0.9,1)" class="dl">5</text>
<text transform="translate(201.22,403.85) scale(0.9,1)" class="dl">5</text>
<text transform="translate(210.54,403.85) scale(0.9,1)" class="dl">5</text>
<text transform="translate(219.87,403.85) scale(0.9,1)" class="dl">5</text>
<text transform="translate(229.20,397.62) scale(0.9,1)" class="dl">7</text>
<text transform="translate(238.52,397.62) scale(0.9,1)" class="dl">7</text>
<text transform="translate(247.85,397.62) scale(0.9,1)" class="dl">7</text>
<text transform="translate(257.18,397.62) scale(0.9,1)" class="dl">7</text>
<text transform="translate(266.50,397.62) scale(0.9,1)" class="dl">7</text>
<text transform="translate(275.83,397.62) scale(0.9,1)" class="dl">7</text>
<text transform="translate(285.16,394.50) scale(0.9,1)" class="dl">8</text>
<text transform="translate(294.48,394.50) scale(0.9,1)" class="dl">8</text>
<text transform="translate(303.81,388.26) scale(0.9,1)" class="dl">10</text>
<text transform="translate(313.14,385.14) scale(0.9,1)" class="dl">11</text>
<text transform="translate(322.46,385.14) scale(0.9,1)" class="dl">11</text>
<text transform="translate(331.79,385.14) scale(0.9,1)" class="dl">11</text>
<text transform="translate(341.12,385.14) scale(0.9,1)" class="dl">11</text>
<text transform="translate(350.44,385.14) scale(0.9,1)" class="dl">11</text>
<text transform="translate(359.77,385.14) scale(0.9,1)" class="dl">11</text>
<text transform="translate(369.10,382.02) scale(0.9,1)" class="dl">12</text>
<text transform="translate(378.42,375.78) scale(0.9,1)" class="dl">14</text>
<text transform="translate(387.75,375.78) scale(0.9,1)" class="dl">14</text>
<text transform="translate(397.08,375.78) scale(0.9,1)" class="dl">14</text>
<text transform="translate(406.40,375.78) scale(0.9,1)" class="dl">14</text>
<text transform="translate(415.73,375.78) scale(0.9,1)" class="dl">14</text>
<text transform="translate(425.06,375.78) scale(0.9,1)" class="dl">14</text>
<text transform="translate(434.38,375.78) scale(0.9,1)" class="dl">14</text>
<text transform="translate(443.71,375.78) scale(0.9,1)" class="dl">14</text>
<text transform="translate(453.04,372.66) scale(0.9,1)" class="dl">15</text>
<text transform="translate(462.36,372.66) scale(0.9,1)" class="dl">15</text>
<text transform="translate(471.69,372.66) scale(0.9,1)" class="dl">15</text>
<text transform="translate(481.02,369.54) scale(0.9,1)" class="dl">16</text>
<text transform="translate(490.34,369.54) scale(0.9,1)" class="dl">16</text>
<text transform="translate(499.67,369.54) scale(0.9,1)" class="dl">16</text>
<text transform="translate(509.00,366.42) scale(0.9,1)" class="dl">17</text>
<text transform="translate(518.32,360.19) scale(0.9,1)" class="dl">19</text>
<text transform="translate(527.65,360.19) scale(0.9,1)" class="dl">19</text>
<text transform="translate(536.98,360.19) scale(0.9,1)" class="dl">19</text>
<text transform="translate(546.30,347.71) scale(0.9,1)" class="dl">23</text>
<text transform="translate(555.63,328.99) scale(0.9,1)" class="dl">29</text>
<text transform="translate(564.96,325.88) scale(0.9,1)" class="dl">30</text>
<text transform="translate(574.28,310.28) scale(0.9,1)" class="dl">35</text>
<text transform="translate(583.61,310.28) scale(0.9,1)" class="dl">35</text>
<text transform="translate(592.94,310.28) scale(0.9,1)" class="dl">35</text>
<text transform="translate(602.26,310.28) scale(0.9,1)" class="dl">35</text>
<text transform="translate(611.59,300.92) scale(0.9,1)" class="dl">38</text>
<text transform="translate(620.92,285.33) scale(0.9,1)" class="dl">43</text>
<text transform="translate(630.24,272.85) scale(0.9,1)" class="dl">47</text>
<text transform="translate(639.57,257.25) scale(0.9,1)" class="dl">52</text>
<text transform="translate(648.90,229.18) scale(0.9,1)" class="dl">61</text>
<text transform="translate(658.22,229.18) scale(0.9,1)" class="dl">61</text>
<text transform="translate(667.55,219.82) scale(0.9,1)" class="dl">64</text>
<text transform="translate(676.88,213.59) scale(0.9,1)" class="dl">66</text>
<text transform="translate(686.20,194.87) scale(0.9,1)" class="dl">72</text>
<text transform="translate(695.53,166.80) scale(0.9,1)" class="dl">81</text>
<text transform="translate(704.86,135.61) scale(0.9,1)" class="dl">91</text>
<text transform="translate(714.18,101.30) scale(0.9,1)" class="dl">102</text>
<text transform="translate(723.51,82.58) scale(0.9,1)" class="dl">108</text>
<text transform="translate(732.84,66.98) scale(0.9,1)" class="dl">113</text>
<text transform="translate(42.66,419.45) scale(0.9,1)" class="dl">0</text>
<text transform="translate(51.99,419.45) scale(0.9,1)" class="dl">0</text>
<text transform="translate(61.32,419.45) scale(0.9,1)" class="dl">0</text>
<text transform="translate(70.64,419.45) scale(0.9,1)" class="dl">0</text>
<text transform="translate(79.97,419.45) scale(0.9,1)" class="dl">0</text>
<text transform="translate(89.30,419.45) scale(0.9,1)" class="dl">0</text>
<text transform="translate(98.62,419.45) scale(0.9,1)" class="dl">0</text>
<text transform="translate(107.95,419.45) scale(0.9,1)" class="dl">0</text>
<text transform="translate(117.28,419.45) scale(0.9,1)" class="dl">0</text>
<text transform="translate(126.60,419.45) scale(0.9,1)" class="dl">0</text>
<text transform="translate(135.93,419.45) scale(0.9,1)" class="dl">0</text>
<text transform="translate(145.26,419.45) scale(0.9,1)" class="dl">0</text>
<text transform="translate(154.58,419.45) scale(0.9,1)" class="dl">0</text>
<text transform="translate(163.91,419.45) scale(0.9,1)" class="dl">0</text>
<text transform="translate(173.24,419.45) scale(0.9,1)" class="dl">0</text>
<text transform="translate(182.56,419.45) scale(0.9,1)" class="dl">0</text>
<text transform="translate(191.89,419.45) scale(0.9,1)" class="dl">0</text>
<text transform="translate(201.22,419.45) scale(0.9,1)" class="dl">0</text>
<text transform="translate(210.54,419.45) scale(0.9,1)" class="dl">0</text>
<text transform="translate(219.87,413.21) scale(0.9,1)" class="dl">2</text>
<text transform="translate(229.20,413.21) scale(0.9,1)" class="dl">2</text>
<text transform="translate(238.52,413.21) scale(0.9,1)" class="dl">2</text>
<text transform="translate(247.85,413.21) scale(0.9,1)" class="dl">2</text>
<text transform="translate(257.18,406.97) scale(0.9,1)" class="dl">4</text>
<text transform="translate(266.50,403.85) scale(0.9,1)" class="dl">5</text>
<text transform="translate(275.83,403.85) scale(0.9,1)" class="dl">5</text>
<text transform="translate(285.16,400.74) scale(0.9,1)" class="dl">6</text>
<text transform="translate(294.48,400.74) scale(0.9,1)" class="dl">6</text>
<text transform="translate(303.81,400.74) scale(0.9,1)" class="dl">6</text>
<text transform="translate(313.14,400.74) scale(0.9,1)" class="dl">6</text>
<text transform="translate(322.46,397.62) scale(0.9,1)" class="dl">7</text>
<text transform="translate(331.79,397.62) scale(0.9,1)" class="dl">7</text>
<text transform="translate(341.12,397.62) scale(0.9,1)" class="dl">7</text>
<text transform="translate(350.44,397.62) scale(0.9,1)" class="dl">7</text>
<text transform="translate(359.77,397.62) scale(0.9,1)" class="dl">7</text>
<text transform="translate(369.10,394.50) scale(0.9,1)" class="dl">8</text>
<text transform="translate(378.42,394.50) scale(0.9,1)" class="dl">8</text>
<text transform="translate(387.75,394.50) scale(0.9,1)" class="dl">8</text>
<text transform="translate(397.08,388.26) scale(0.9,1)" class="dl">10</text>
<text transform="translate(406.40,388.26) scale(0.9,1)" class="dl">10</text>
<text transform="translate(415.73,382.02) scale(0.9,1)" class="dl">12</text>
<text transform="translate(425.06,382.02) scale(0.9,1)" class="dl">12</text>
<text transform="translate(434.38,382.02) scale(0.9,1)" class="dl">12</text>
<text transform="translate(443.71,382.02) scale(0.9,1)" class="dl">12</text>
<text transform="translate(453.04,378.90) scale(0.9,1)" class="dl">13</text>
<text transform="translate(462.36,378.90) scale(0.9,1)" class="dl">13</text>
<text transform="translate(471.69,378.90) scale(0.9,1)" class="dl">13</text>
<text transform="translate(481.02,378.90) scale(0.9,1)" class="dl">13</text>
<text transform="translate(490.34,378.90) scale(0.9,1)" class="dl">13</text>
<text transform="translate(499.67,375.78) scale(0.9,1)" class="dl">14</text>
<text transform="translate(509.00,375.78) scale(0.9,1)" class="dl">14</text>
<text transform="translate(518.32,375.78) scale(0.9,1)" class="dl">14</text>
<text transform="translate(527.65,375.78) scale(0.9,1)" class="dl">14</text>
<text transform="translate(536.98,375.78) scale(0.9,1)" class="dl">14</text>
<text transform="translate(546.30,375.78) scale(0.9,1)" class="dl">14</text>
<text transform="translate(555.63,366.42) scale(0.9,1)" class="dl">17</text>
<text transform="translate(564.96,366.42) scale(0.9,1)" class="dl">17</text>
<text transform="translate(574.28,366.42) scale(0.9,1)" class="dl">17</text>
<text transform="translate(583.61,366.42) scale(0.9,1)" class="dl">17</text>
<text transform="translate(592.94,366.42) scale(0.9,1)" class="dl">17</text>
<text transform="translate(602.26,366.42) scale(0.9,1)" class="dl">17</text>
<text transform="translate(611.59,341.47) scale(0.9,1)" class="dl">25</text>
<text transform="translate(620.92,332.11) scale(0.9,1)" class="dl">28</text>
<text transform="translate(630.24,328.99) scale(0.9,1)" class="dl">29</text>
<text transform="translate(639.57,328.99) scale(0.9,1)" class="dl">29</text>
<text transform="translate(648.90,313.40) scale(0.9,1)" class="dl">34</text>
<text transform="translate(658.22,313.40) scale(0.9,1)" class="dl">34</text>
<text transform="translate(667.55,294.68) scale(0.9,1)" class="dl">40</text>
<text transform="translate(676.88,294.68) scale(0.9,1)" class="dl">40</text>
<text transform="translate(686.20,269.73) scale(0.9,1)" class="dl">48</text>
<text transform="translate(695.53,269.73) scale(0.9,1)" class="dl">48</text>
<text transform="translate(704.86,269.73) scale(0.9,1)" class="dl">48</text>
<text transform="translate(714.18,263.49) scale(0.9,1)" class="dl">50</text>
<text transform="translate(723.51,251.02) scale(0.9,1)" class="dl">54</text>
<text transform="translate(732.84,251.02) scale(0.9,1)" class="dl">54</text>
<text class="xl" text-anchor="end" transform="translate(42.16,426.60) rotate(-45)" x="0" y="3">25/03/2020</text>
<text class="xl" text-anchor="end" transform="translate(60.82,426.60) rotate(-45)" x="0" y="3">27/03/2020</text>
<text class="xl" text-anchor="end" transform="translate(79.47,426.60) rotate(-45)" x="0" y="3">29/03/2020</text>
<text class="xl" text-anchor="end" transform="translate(98.12,426.60) rotate(-45)" x="0" y="3">31/03/2020</text>
<text class="xl" text-anchor="end" transform="translate(116.78,426.60) rotate(-45)" x="0" y="3">02/04/2020</text>
<text class="xl" text-anchor="end" transform="translate(135.43,426.60) rotate(-45)" x="0" y="3">04/04/2020</text>
<text class="xl" text-anchor="end" transform="translate(154.08,426.60) rotate(-45)" x="0" y="3">06/04/2020</text>
<text class="xl" text-anchor="end" transform="translate(172.74,426.60) rotate(-45)" x="0" y="3">08/04/2020</text>
<text class="xl" text-anchor="end" transform="translate(191.39,426.60) rotate(-45)" x="0" y="3">10/04/2020</text>
<text class="xl" text-anchor="end" transform="translate(210.04,426.60) rotate(-45)" x="0" y="3">12/04/2020</text>
<text class="xl" text-anchor="end" transform="translate(228.70,426.60) rotate(-45)" x="0" y="3">14/04/2020</text>
<text class="xl" text-anchor="end" transform="translate(247.35,426.60) rotate(-45)" x="0" y="3">16/04/2020</text>
<text class="xl" text-anchor="end" transform="translate(266.00,426.60) rotate(-45)" x="0" y="3">18/04/2020</text>
<text class="xl" text-anchor="end" transform="translate(284.66,426.60) rotate(-45)" x="0" y="3">20/04/2020</text>
<text class="xl" text-anchor="end" transform="translate(303.31,426.60) rotate(-45)" x="0" y="3">22/04/2020</text>
<text class="xl" text-anchor="end" transform="translate(321.96,426.60) rotate(-45)" x="0" y="3">24/04/2020</text>
<text class="xl" text-anchor="end" transform="translate(340.62,426.60) rotate(-45)" x="0" y="3">26/04/2020</text>
<text class="xl" text-anchor="end" transform="translate(359.27,426.60) rotate(-45)" x="0" y="3">28/04/2020</text>
<text class="xl" text-anchor="end" transform="translate(377.92,426.60) rotate(-45)" x="0" y="3">30/04/2020</text>
<text class="xl" text-anchor="end" transform="translate(396.58,426.60) rotate(-45)" x="0" y="3">02/05/2020</text>
<text class="xl" text-anchor="end" transform="translate(415.23,426.60) rotate(-45)" x="0" y="3">04/05/2020</text>
<text class="xl" text-anchor="end" transform="translate(433.88,426.60) rotate(-45)" x="0" y="3">06/05/2020</text>
<text class="xl" text-anchor="end" transform="translate(452.54,426.60) rotate(-45)" x="0" y="3">08/05/2020</text>
<text class="xl" text-anchor="end" transform="translate(471.19,426.60) rotate(-45)" x="0" y="3">10/05/2020</text>
<text class="xl" text-anchor="end" transform="translate(489.84,426.60) rotate(-45)" x="0" y="3">12/05/2020</text>
<text class="xl" text-anchor="end" transform="translate(508.50,426.60) rotate(-45)" x="0" y="3">14/05/2020</text>
<text class="xl" text-anchor="end" transform="translate(527.15,426.60) rotate(-45)" x="0" y="3">16/05/2020</text>
<text class="xl" text-anchor="end" transform="translate(545.80,426.60) rotate(-45)" x="0" y="3">18/05/2020</text>
<text class="xl" text-anchor="end" transform="translate(564.46,426.60) rotate(-45)" x="0" y="3">20/05/2020</text>
<text class="xl" text-anchor="end" transform="translate(583.11,426.60) rotate(-45)" x="0" y="3">22/05/2020</text>
<text class="xl" text-anchor="end" transform="translate(601.76,426.60) rotate(-45)" x="0" y="3">24/05/2020</text>
<text class="xl" text-anchor="end" transform="translate(620.42,426.60) rotate(-45)" x="0" y="3">26/05/2020</text>
<text class="xl" text-anchor="end" transform="translate(639.07,426.60) rotate(-45)" x="0" y="3">28/05/2020</text>
<text class="xl" text-anchor="end" transform="translate(657.72,426.60) rotate(-45)" x="0" y="3">30/05/2020</text>
<text class="xl" text-anchor="end" transform="translate(676.38,426.60) rotate(-45)" x="0" y="3">01/06/2020</text>
<text class="xl" text-anchor="end" transform="translate(695.03,426.60) rotate(-45)" x="0" y="3">03/06/2020</text>
<text class="xl" text-anchor="end" transform="translate(713.68,426.60) rotate(-45)" x="0" y="3">05/06/2020</text>
<text class="xl" text-anchor="end" transform="translate(732.34,426.60) rotate(-45)" x="0" y="3">07/06/2020</text>

<g>
<rect x="37" y="42" width="64" height="62.6" fill="#e97b1e"/>
<rect x="37" y="42" width="64" height="9.6" fill="#2a1a78"/>
<rect x="37" y="94.2" width="64" height="10.4" fill="#2a1a78"/>
<polygon fill="#fff" points="57,55.4 80.7,55.4 86,60.8 101,55.9 101,68.4 80.7,68.6 76.3,63.9 64.4,64.2 54.6,75 43.8,75"/>
<polygon fill="#fff" points="37,78.4 57,78.4 62,83.8 74.3,83.2 84.1,72 94.9,72 80.7,92.8 58,92.6 52.6,86.7 37,92"/>
<polygon fill="#2a1a78" points="68.4,64.9 60.2,78.2 76.5,78.2"/>
<rect x="64" y="71.9" width="8" height="6" fill="#fff"/>
<circle cx="65.3" cy="74.5" r="0.5" fill="#6a9a3a"/><ellipse cx="66.8" cy="74.6" rx="1.3" ry="1.1" fill="#f2d23a"/><polygon points="67.8,73.6 67.8,75.5 70,74.6" fill="#e8632a"/>
<text x="69" y="50.2" text-anchor="middle" textLength="62" lengthAdjust="spacingAndGlyphs" font-family="Liberation Sans" font-weight="bold" font-size="8" fill="#fff" stroke="#fff" stroke-width="0.35">DEFESA CIVIL</text>
<text x="69" y="101.9" text-anchor="middle" textLength="62" lengthAdjust="spacingAndGlyphs" font-family="Liberation Sans" font-weight="bold" font-size="5.2" fill="#fff" stroke="#fff" stroke-width="0.3">FERNANDÓPOLIS-SP</text>
</g>


<rect x="38.5" y="148.5" width="41.2" height="18" fill="#4472c4" stroke="#2f528f" stroke-width="1"/>
<rect x="38.5" y="210.5" width="41.2" height="18" fill="#ed7d31" stroke="#111" stroke-width="1"/>
<text x="85.7" y="161.3" class="lg">Casos Confirmados</text>
<text x="88.5" y="226.8" class="lg">Casos Curados</text>

</svg>
</body></html>
